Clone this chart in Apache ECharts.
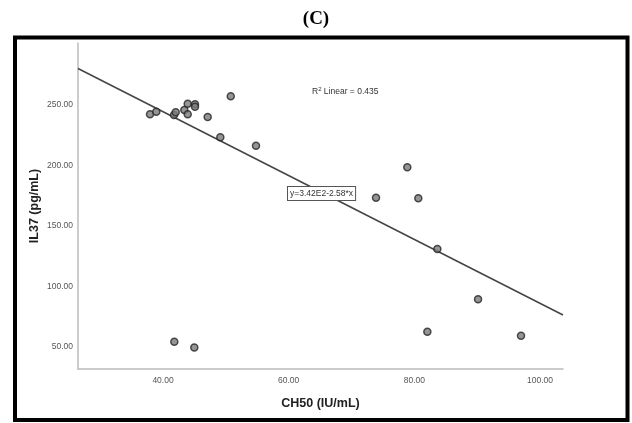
<!DOCTYPE html>
<html><head><meta charset="utf-8">
<script src="https://cdn.jsdelivr.net/npm/echarts@6/dist/echarts.min.js"></script>
<style>html,body{margin:0;padding:0;background:#fff}#c{width:632px;height:423px}</style>
</head><body><div id="c"></div>
<script>
const ch50 = [37.93, 38.93, 41.75, 42.02, 43.39, 43.93, 43.93, 45.09, 45.09, 47.11, 49.12, 50.78, 54.80, 78.88, 73.90, 80.63, 83.66, 90.14, 82.07, 96.98, 41.80, 44.98];
const il37 = [242.3, 244.5, 241.7, 244.0, 245.9, 251.1, 242.3, 250.6, 248.6, 240.1, 223.3, 257.2, 216.3, 198.4, 173.3, 172.8, 130.8, 89.2, 62.4, 59.1, 54.1, 49.2];
const fitX = [26.47, 103.66];
const fitY = [280.2, 76.2];
const xTicks = [40, 60, 80, 100];
const yTicks = [50, 100, 150, 200, 250];

const chart = echarts.init(document.getElementById('c'));
const tickFont = {fontFamily: 'Liberation Sans, Arial, sans-serif', fontSize: 8.5, color: '#555'};
chart.setOption({
  animation: false,
  backgroundColor: '#fff',
  grid: {left: 78, top: 43, right: 69, bottom: 54},
  xAxis: {
    type: 'value', min: 26.47, max: 103.66,
    name: 'CH50 (IU/mL)', nameLocation: 'middle', nameGap: 28,
    nameTextStyle: {fontFamily: 'Liberation Sans, Arial, sans-serif', fontSize: 12.5, fontWeight: 'bold', color: '#222'},
    axisLine: {lineStyle: {color: '#bbb', width: 1.5}},
    axisTick: {show: false}, splitLine: {show: false},
    axisLabel: Object.assign({customValues: xTicks, formatter: v => v.toFixed(2), margin: 7}, tickFont)
  },
  yAxis: {
    type: 'value', min: 31.5, max: 301.3,
    name: 'IL37 (pg/mL)', nameLocation: 'middle', nameGap: 37, nameRotate: 90, nameMoveOverlap: false,
    nameTextStyle: {fontFamily: 'Liberation Sans, Arial, sans-serif', fontSize: 12.5, fontWeight: 'bold', color: '#222'},
    axisLine: {show: true, lineStyle: {color: '#bbb', width: 1.5}},
    axisTick: {show: false}, splitLine: {show: false},
    axisLabel: Object.assign({customValues: yTicks, formatter: v => v.toFixed(2), margin: 5}, tickFont)
  },
  series: [
    {
      type: 'line', data: fitX.map((x, i) => [x, fitY[i]]), symbol: 'none',
      lineStyle: {color: '#444', width: 1.5}, z: 2
    },
    {
      type: 'scatter', data: ch50.map((x, i) => [x, il37[i]]), symbolSize: 7,
      itemStyle: {color: '#7a7a7a', borderColor: '#262626', borderWidth: 1.5}, z: 3
    }
  ],
  graphic: [
    {type: 'text', left: 'center', top: 10, style: {text: '(C)', font: 'bold 19px "Liberation Serif", "Times New Roman", serif', fill: '#000'}},
    {type: 'rect', shape: {x: 15, y: 37.5, width: 612.5, height: 382.5}, style: {fill: 'none', stroke: '#000', lineWidth: 4}, z: 10},
    {type: 'text', x: 312, y: 86, z: 10, style: {
      text: '{a|R}{s|2}{a| Linear = 0.435}',
      rich: {a: {fontFamily: 'Liberation Sans, Arial, sans-serif', fontSize: 8.5, fill: '#333'},
             s: {fontFamily: 'Liberation Sans, Arial, sans-serif', fontSize: 6, fill: '#333', verticalAlign: 'top', padding: [0,0,5,0]}}
    }},
    {type: 'text', x: 288, y: 187, z: 10, style: {
      text: 'y=3.42E2-2.58*x', font: '8.5px "Liberation Sans", Arial, sans-serif', fill: '#333',
      backgroundColor: '#fff', borderColor: '#555', borderWidth: 1, padding: [2, 2, 2, 2]
    }}
  ]
});
</script></body></html>
